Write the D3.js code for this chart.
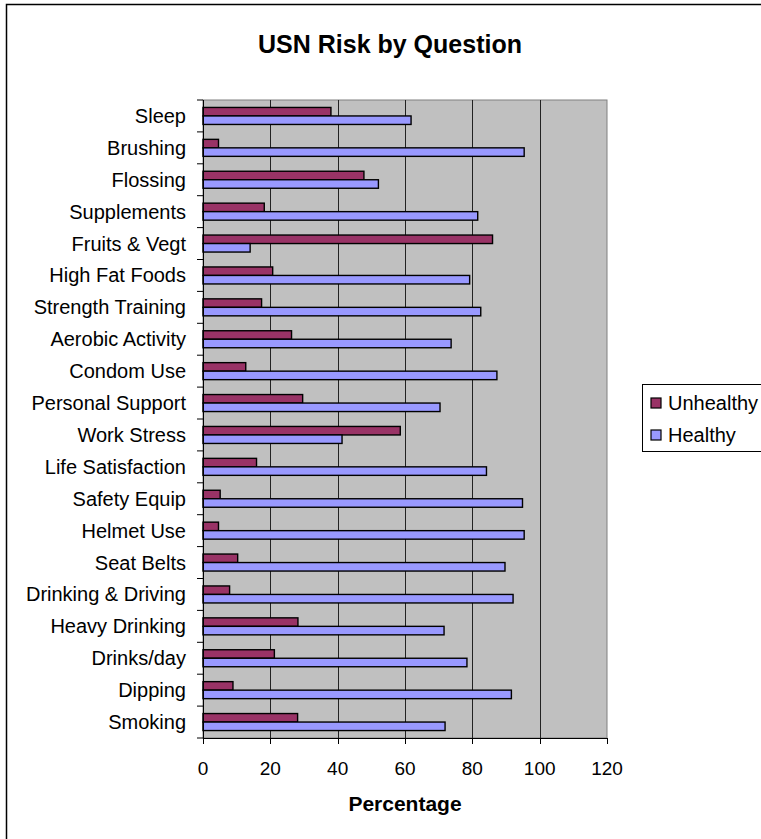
<!DOCTYPE html>
<meta charset="utf-8">
<style>
body { margin: 0; background: #fff; }
text { font-family: Arial, "Liberation Sans", sans-serif; fill: #000; }
</style>
<body>
<svg class="chart"></svg>
<script src="https://d3js.org/d3.v7.min.js"></script>
<script>
"use strict";

var questions = ["Sleep", "Brushing", "Flossing", "Supplements", "Fruits & Vegt",
  "High Fat Foods", "Strength Training", "Aerobic Activity", "Condom Use",
  "Personal Support", "Work Stress", "Life Satisfaction", "Safety Equip",
  "Helmet Use", "Seat Belts", "Drinking & Driving", "Heavy Drinking",
  "Drinks/day", "Dipping", "Smoking"];
var unhealthy = [38, 4.6, 47.8, 18.2, 86, 20.7, 17.4, 26.3, 12.7, 29.6,
  58.6, 15.9, 5.1, 4.6, 10.3, 7.9, 28.2, 21.2, 8.9, 28.1];
var healthy = [61.8, 95.4, 52.1, 81.6, 14, 79.2, 82.5, 73.7, 87.3, 70.4,
  41.3, 84.2, 94.9, 95.4, 89.7, 92.1, 71.6, 78.4, 91.6, 71.9];
var seriesNames = ["Unhealthy", "Healthy"];
var seriesColors = ["#993366", "#9999ff"];
var xTicks = [0, 20, 40, 60, 80, 100, 120];

var width = 761, height = 839;
var plot = { left: 203, right: 607, top: 100, bottom: 738 };

var svg = d3.select(".chart").attr("width", width).attr("height", height);

// outer chart frame
svg.append("rect")
  .attr("x", 6.5).attr("y", 4.5)
  .attr("width", 800).attr("height", 900)
  .attr("fill", "#fff").attr("stroke", "#000").attr("stroke-width", 1.5);

var x = d3.scaleLinear().domain([0, 120]).range([plot.left, plot.right]);
var y = d3.scaleBand().domain(questions).range([plot.top, plot.bottom])
  .paddingInner(0.467).paddingOuter(0.2335);
var ySub = d3.scaleBand().domain(seriesNames).range([0, y.bandwidth()]);

// plot background
svg.append("rect")
  .attr("x", plot.left).attr("y", plot.top)
  .attr("width", plot.right - plot.left).attr("height", plot.bottom - plot.top)
  .attr("fill", "#c0c0c0").attr("stroke", "#808080").attr("stroke-width", 1);

// gridlines
svg.append("g").selectAll("line")
  .data(xTicks.slice(1, -1))
  .join("line")
  .attr("x1", function (d) { return Math.round(x(d)) + 0.5; })
  .attr("x2", function (d) { return Math.round(x(d)) + 0.5; })
  .attr("y1", plot.top).attr("y2", plot.bottom)
  .attr("stroke", "#222").attr("stroke-width", 1);

// bars
var rows = questions.map(function (q, i) {
  return { q: q, values: [unhealthy[i], healthy[i]] };
});
var groups = svg.append("g").selectAll("g")
  .data(rows)
  .join("g")
  .attr("transform", function (d) { return "translate(0," + y(d.q) + ")"; });

groups.selectAll("rect")
  .data(function (d) {
    return d.values.map(function (v, j) { return { s: seriesNames[j], v: v, j: j }; });
  })
  .join("rect")
  .attr("x", x(0))
  .attr("y", function (d) { return ySub(d.s); })
  .attr("width", function (d) { return x(d.v) - x(0); })
  .attr("height", ySub.bandwidth())
  .attr("fill", function (d) { return seriesColors[d.j]; })
  .attr("stroke", "#000").attr("stroke-width", 1.4);

// y axis
svg.append("line")
  .attr("x1", plot.left + 0.5).attr("x2", plot.left + 0.5)
  .attr("y1", plot.top).attr("y2", plot.bottom)
  .attr("stroke", "#000");
var step = y.step();
svg.append("g").selectAll("line")
  .data(d3.range(questions.length + 1))
  .join("line")
  .attr("x1", plot.left - 6).attr("x2", plot.left)
  .attr("y1", function (i) { return plot.top + i * step; })
  .attr("y2", function (i) { return plot.top + i * step; })
  .attr("stroke", "#000");
svg.append("g").selectAll("text")
  .data(questions)
  .join("text")
  .attr("x", plot.left - 17)
  .attr("y", function (d) { return y(d) + y.bandwidth() / 2; })
  .attr("dy", "0.35em")
  .attr("text-anchor", "end")
  .style("font-size", "20px")
  .text(function (d) { return d; });

// x axis
svg.append("line")
  .attr("x1", plot.left).attr("x2", plot.right)
  .attr("y1", plot.bottom + 0.5).attr("y2", plot.bottom + 0.5)
  .attr("stroke", "#000");
svg.append("g").selectAll("line")
  .data(xTicks)
  .join("line")
  .attr("x1", function (d) { return Math.round(x(d)) + 0.5; })
  .attr("x2", function (d) { return Math.round(x(d)) + 0.5; })
  .attr("y1", plot.bottom).attr("y2", plot.bottom + 6)
  .attr("stroke", "#000");
svg.append("g").selectAll("text")
  .data(xTicks)
  .join("text")
  .attr("x", function (d) { return x(d); })
  .attr("y", plot.bottom + 37)
  .attr("text-anchor", "middle")
  .style("font-size", "19px")
  .text(function (d) { return d; });

svg.append("text")
  .attr("x", (plot.left + plot.right) / 2)
  .attr("y", 811)
  .attr("text-anchor", "middle")
  .style("font-size", "21px").style("font-weight", "bold")
  .text("Percentage");

// title
svg.append("text")
  .attr("x", 390).attr("y", 53)
  .attr("text-anchor", "middle")
  .style("font-size", "25px").style("font-weight", "bold")
  .text("USN Risk by Question");

// legend
var legend = svg.append("g").attr("transform", "translate(642,384)");
legend.append("rect")
  .attr("x", 0.5).attr("y", 0.5).attr("width", 200).attr("height", 67)
  .attr("fill", "#fff").attr("stroke", "#000");
seriesNames.forEach(function (s, i) {
  legend.append("rect")
    .attr("x", 9).attr("y", 14 + i * 32).attr("width", 10).attr("height", 10)
    .attr("fill", seriesColors[i]).attr("stroke", "#000").attr("stroke-width", 1.2);
  legend.append("text")
    .attr("x", 26).attr("y", 19 + i * 32).attr("dy", "0.35em")
    .style("font-size", "20px")
    .text(s);
});
</script>
</body>
